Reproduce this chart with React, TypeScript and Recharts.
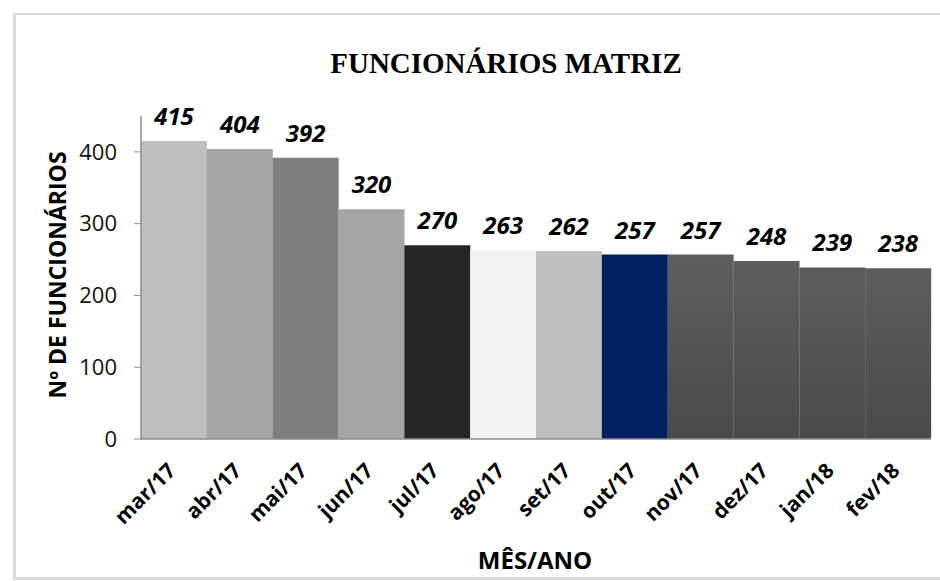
import { Bar, BarChart, Cell, LabelList, XAxis, YAxis } from "recharts";

const months = ["mar/17", "abr/17", "mai/17", "jun/17", "jul/17", "ago/17", "set/17", "out/17", "nov/17", "dez/17", "jan/18", "fev/18"];
const employees = [415, 404, 392, 320, 270, 263, 262, 257, 257, 248, 239, 238];
const barColors = ["#bfbfbf", "#a5a5a5", "#7f7f7f", "#a5a5a5", "#262626", "#f2f2f2", "#bfbfbf", "#002060", "url(#darkFill)", "url(#darkFill)", "url(#darkFill)", "url(#darkFill)"];
const yTicks = [0, 100, 200, 300, 400];

const data = months.map((m, i) => ({ mes: m, total: employees[i] }));

const sans = "'Open Sans', sans-serif";

function MonthTick({ x, y, payload }: any) {
  return (
    <g transform={`translate(${x + 3},${y + 33})`}>
      <text
        textAnchor="end"
        transform="rotate(-45)"
        fontFamily={sans}
        fontWeight={700}
        fontSize={21}
        fill="#000"
      >
        {payload.value}
      </text>
    </g>
  );
}

export default function App() {
  return (
    <div style={{ position: "absolute", left: 0, top: 0, width: 940, height: 581, background: "#fff", overflow: "hidden" }}>
      <div
        style={{
          position: "absolute",
          left: 13,
          top: 13,
          width: 950,
          height: 567,
          border: "2px solid #d9d9d9",
          borderLeftWidth: 3,
          borderBottomWidth: 3,
          boxSizing: "border-box",
        }}
      />
      <div style={{ position: "absolute", left: 0, top: 0 }}>
        <BarChart
          width={940}
          height={581}
          data={data}
          barCategoryGap={0}
          margin={{ top: 116, right: 9, left: 0, bottom: 0 }}
        >
          <defs>
            <linearGradient id="darkFill" gradientUnits="userSpaceOnUse" x1="0" y1="250" x2="0" y2="439">
              <stop offset="0%" stopColor="#5f5f5f" />
              <stop offset="100%" stopColor="#4a4a4a" />
            </linearGradient>
          </defs>
          <XAxis
            dataKey="mes"
            height={142}
            interval={0}
            tickLine={false}
            tickSize={0}
            tickMargin={0}
            axisLine={{ stroke: "#8c8c8c", strokeWidth: 1.5 }}
            tick={<MonthTick />}
          />
          <YAxis
            width={141}
            domain={[0, 450]}
            ticks={yTicks}
            interval={0}
            tickSize={7}
            tickMargin={17}
            tickLine={{ stroke: "#8c8c8c" }}
            axisLine={{ stroke: "#8c8c8c", strokeWidth: 1.5 }}
            tick={{ fill: "#111", fontSize: 22, fontFamily: sans }}
          />
          <Bar dataKey="total" isAnimationActive={false}>
            {data.map((d, i) => (
              <Cell key={d.mes} fill={barColors[i]} />
            ))}
            <LabelList
              dataKey="total"
              position="top"
              offset={16}
              fill="#000"
              fontSize={24}
              fontWeight={700}
              fontStyle="italic"
              fontFamily={sans}
            />
          </Bar>
          <text
            x={506}
            y={73}
            textAnchor="middle"
            fontFamily="'Liberation Serif', serif"
            fontWeight={700}
            fontSize={29}
            fill="#000"
          >
            FUNCIONÁRIOS MATRIZ
          </text>
          <text
            x={0}
            y={0}
            transform="translate(66,275) rotate(-90)"
            textAnchor="middle"
            fontFamily={sans}
            fontWeight={700}
            fontSize={23}
            fill="#000"
          >
            Nº DE FUNCIONÁRIOS
          </text>
          <text
            x={535}
            y={569}
            textAnchor="middle"
            fontFamily={sans}
            fontWeight={700}
            fontSize={24}
            fill="#000"
          >
            MÊS/ANO
          </text>
        </BarChart>
      </div>
    </div>
  );
}
